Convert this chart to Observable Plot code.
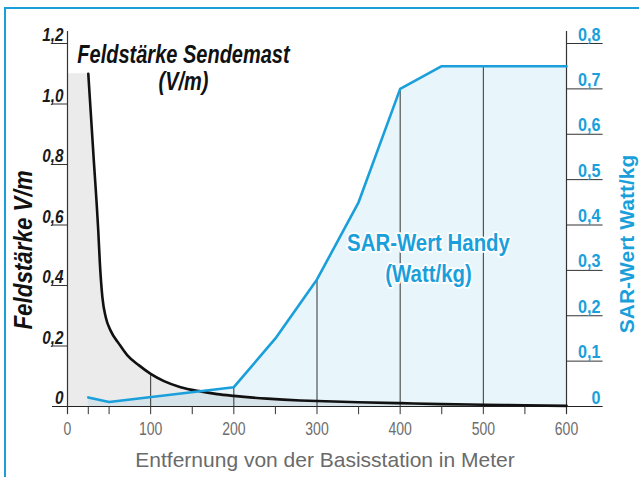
<!DOCTYPE html>
<html>
<head>
<meta charset="utf-8">
<script src="https://cdn.jsdelivr.net/npm/d3@7"></script>
<script src="https://cdn.jsdelivr.net/npm/@observablehq/plot@0.6"></script>
<style>
  html, body { margin: 0; padding: 0; background: #fff; }
  #wrap { position: relative; width: 639px; height: 477px; overflow: hidden; }
  #frame { position: absolute; left: 4px; top: 7px; right: -4px; bottom: -4px;
           border-left: 2px solid #1a9fdb; border-top: 2px solid #1a9fdb; }
  #chart { position: absolute; left: 0; top: 0; }
</style>
</head>
<body>
<div id="wrap"><div id="frame"></div><div id="chart"></div></div>
<script>
// ---- data ----
const fieldDist = [25, 31, 37, 39, 42, 46, 52, 62, 72, 86, 100, 116, 136, 160, 180, 200, 240, 280, 300, 350, 400, 450, 500, 550, 600];
const fieldVal  = [1.10, 0.84, 0.58, 0.47, 0.36, 0.295, 0.25, 0.207, 0.169, 0.136, 0.108, 0.084, 0.064, 0.050, 0.041, 0.035, 0.026, 0.020, 0.018, 0.014, 0.011, 0.008, 0.006, 0.004, 0.002];
const sarDist = [25, 50, 200, 250, 300, 350, 400, 450, 600];
const sarVal  = [0.02, 0.01, 0.0425, 0.15, 0.28, 0.45, 0.70, 0.75, 0.75];
const gridDist = [100, 200, 300, 400, 500];
const xTicks  = [0, 25, 50, 100, 150, 200, 250, 300, 350, 400, 450, 500, 550, 600];
const xLabels = [0, 100, 200, 300, 400, 500, 600];
const fieldTicks = [0, 0.2, 0.4, 0.6, 0.8, 1.0, 1.2];
const sarTicks = [0, 0.1, 0.2, 0.3, 0.4, 0.5, 0.6, 0.7, 0.8];
const SAR_SCALE = 1.5; // right axis 0,8 W/kg sits level with left axis 1,2 V/m

const fieldTitle = "Feldstärke V/m";
const sarTitle = "SAR-Wert Watt/kg";
const xTitle = "Entfernung von der Basisstation in Meter";
const fieldNote = ["Feldstärke Sendemast", "(V/m)"];
const sarNote = ["SAR-Wert Handy", "(Watt/kg)"];

// ---- derived tables ----
const field = fieldDist.map((d, i) => ({d, v: fieldVal[i]}));
const fieldArea = [{d: xTicks[0], v: fieldVal[0]}, ...field];
const sar = sarDist.map((d, i) => ({d, v: sarVal[i] * SAR_SCALE}));
function interp(xs, ys, x) {
  const i = d3.bisectRight(xs, x);
  if (i <= 0) return ys[0];
  if (i >= xs.length) return ys[ys.length - 1];
  const t = (x - xs[i - 1]) / (xs[i] - xs[i - 1]);
  return ys[i - 1] + t * (ys[i] - ys[i - 1]);
}
const grid = gridDist.map(d => ({d, top: Math.max(interp(fieldDist, fieldVal, d), interp(sarDist, sarVal, d) * SAR_SCALE)}));
const comma = v => v === 0 ? "0" : v.toFixed(1).replace(".", ",");

const BLUE = "#1a9fdb";
const FONT = "'Liberation Sans', Arial, Helvetica, sans-serif";
const noteField = {frameAnchor: "top-left", lineAnchor: "top", textAnchor: "middle", dx: 116, fontSize: 25, fontWeight: "bold", fontStyle: "italic", fill: "#111", ariaDescription: "field-note"};
const noteSar = {frameAnchor: "top-left", lineAnchor: "top", textAnchor: "middle", dx: 361, fontSize: 24, fontWeight: "bold", fill: BLUE, stroke: "white", strokeWidth: 3.5, paintOrder: "stroke", ariaDescription: "sar-note"};

const chart = Plot.plot({
  width: 639, height: 477,
  marginLeft: 67, marginRight: 73, marginTop: 43, marginBottom: 71,
  x: {domain: [0, 600], axis: null},
  y: {domain: [0, 1.2], axis: null},
  style: {fontFamily: FONT, background: "transparent", overflow: "visible"},
  marks: [
    Plot.areaY(fieldArea, {x: "d", y: "v", fill: "#ebebeb", curve: "monotone-x"}),
    Plot.areaY(sar, {x: "d", y: "v", fill: BLUE, fillOpacity: 0.1}),
    Plot.ruleX(grid, {x: "d", y1: 0, y2: "top", stroke: "#333", strokeWidth: 1}),
    // axis lines
    Plot.ruleX([0, 600], {y1: -0.026, y2: 1.24, stroke: "#333", strokeWidth: 1.2}),
    Plot.ruleY([0], {x1: -18, x2: 644, stroke: "#222", strokeWidth: 1.2}),
    // x ticks
    Plot.ruleX(xTicks, {x: d => d, y1: -0.027, y2: 0, stroke: "#333", strokeWidth: 1}),
    Plot.text(xLabels, {x: d => d, y: 0, text: d => String(d), dy: 23, fontSize: 18, fill: "#6d6d6d", ariaDescription: "xlabels"}),
    // left ticks
    Plot.ruleY(fieldTicks.slice(1), {y: d => d, x1: -18, x2: 0, stroke: "#333", strokeWidth: 1}),
    Plot.text(fieldTicks, {x: 0, y: d => d, text: comma, dx: -4, dy: -8, textAnchor: "end", fontSize: 18, fontWeight: "bold", fontStyle: "italic", fill: "#1a1a1a", ariaDescription: "ylabels-left"}),
    // right ticks
    Plot.ruleY(sarTicks.slice(1), {y: d => d * SAR_SCALE, x1: 600, x2: 644, stroke: "#333", strokeWidth: 1}),
    Plot.text(sarTicks, {x: 600, y: d => d * SAR_SCALE, text: comma, dx: 34, dy: -9, textAnchor: "end", fontSize: 19, fontWeight: "bold", fill: BLUE, ariaDescription: "ylabels-right"}),
    // lines
    Plot.line(field, {x: "d", y: "v", stroke: "#111", strokeWidth: 2.6, curve: "monotone-x"}),
    Plot.line(sar, {x: "d", y: "v", stroke: BLUE, strokeWidth: 2.6}),
    // titles
    Plot.text([fieldTitle], {frameAnchor: "left", rotate: -90, textAnchor: "middle", dx: -44, dy: 25, fontSize: 26, fontWeight: "bold", fontStyle: "italic", fill: "#111", ariaDescription: "ytitle-left"}),
    Plot.text([sarTitle], {frameAnchor: "right", rotate: -90, textAnchor: "middle", dx: 61, dy: 19, fontSize: 21, fontWeight: "bold", fill: BLUE, ariaDescription: "ytitle-right"}),
    Plot.text([xTitle], {frameAnchor: "bottom", textAnchor: "middle", dx: 8, dy: 60, fontSize: 21, fill: "#6a6a6a", ariaDescription: "xtitle"}),
    // annotations
    Plot.text([fieldNote[0]], {...noteField, dy: 2}),
    Plot.text([fieldNote[1]], {...noteField, dy: 29}),
    Plot.text([sarNote[0]], {...noteSar, dy: 190}),
    Plot.text([sarNote[1]], {...noteSar, dy: 221})
  ]
});
document.getElementById("chart").appendChild(chart);

function condense(label, f) {
  chart.querySelectorAll(`g[aria-description="${label}"] text`).forEach(t => {
    const spans = t.querySelectorAll("tspan");
    const els = spans.length ? Array.from(spans) : [t];
    els.forEach(e => {
      const L = e.getComputedTextLength();
      if (L > 0) {
        e.setAttribute("textLength", (L * f).toFixed(1));
        e.setAttribute("lengthAdjust", "spacingAndGlyphs");
      }
    });
  });
}
condense("xlabels", 0.78);
condense("ylabels-left", 0.85);
condense("ylabels-right", 0.85);
condense("ytitle-left", 0.86);
condense("ytitle-right", 1.0);
condense("field-note", 0.8);
condense("sar-note", 0.85);
</script>
</body>
</html>
